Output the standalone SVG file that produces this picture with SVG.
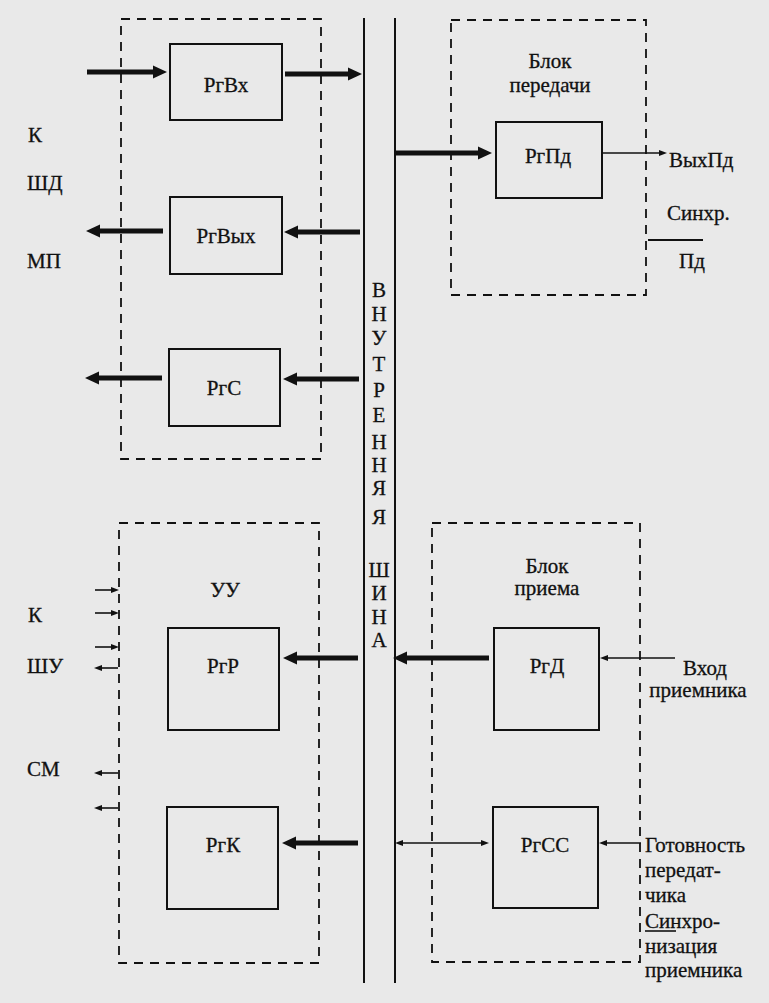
<svg xmlns="http://www.w3.org/2000/svg" width="769" height="1003" viewBox="0 0 769 1003">
<defs>
<marker id="big" markerUnits="userSpaceOnUse" markerWidth="14" markerHeight="14" refX="1" refY="7" orient="auto"><path d="M0,0.5 L14,7 L0,13.5 z" fill="#111"/></marker>
<marker id="small" markerUnits="userSpaceOnUse" markerWidth="8" markerHeight="7" refX="1" refY="3.5" orient="auto-start-reverse"><path d="M0,0.5 L8,3.5 L0,6.5 z" fill="#111"/></marker>
</defs>
<style>
.bg{fill:#e9e9e9}
.dash{fill:none;stroke:#111;stroke-width:1.8;stroke-dasharray:9,7}
.box{fill:none;stroke:#111;stroke-width:2}
.thick{stroke:#111;stroke-width:5;fill:none;marker-end:url(#big)}
.thin{stroke:#111;stroke-width:1.6;fill:none;marker-end:url(#small)}
.bus{stroke:#111;stroke-width:2}
text{font-family:'Liberation Serif',serif;font-size:21px;fill:#111;stroke:#111;stroke-width:0.3}
.c{text-anchor:middle}
.bl{font-size:22px}
</style>
<rect class="bg" x="0" y="0" width="769" height="1003"/>

<g id="bus">
<line class="bus" x1="364" y1="18" x2="364" y2="983"/>
<line class="bus" x1="395" y1="18" x2="395" y2="983"/>
<g class="c bl">
<text x="379" y="297">В</text>
<text x="379" y="321">Н</text>
<text x="379" y="345">У</text>
<text x="379" y="371">Т</text>
<text x="379" y="397">Р</text>
<text x="379" y="422">Е</text>
<text x="379" y="449">Н</text>
<text x="379" y="472">Н</text>
<text x="379" y="495">Я</text>
<text x="379" y="524">Я</text>
<text x="379" y="577">Ш</text>
<text x="379" y="600">И</text>
<text x="379" y="624">Н</text>
<text x="379" y="647">А</text>
</g>
</g>

<g id="mp-block">
<rect class="dash" x="121" y="19" width="200" height="440"/>
</g>
<g id="tx-block">
<rect class="dash" x="451" y="20" width="195" height="275"/>
<text class="c" x="550" y="68">Блок</text>
<text class="c" x="550" y="92">передачи</text>
</g>
<g id="uu-block">
<rect class="dash" x="119" y="523" width="200" height="440"/>
<text class="c" x="225" y="597">УУ</text>
</g>
<g id="rx-block">
<rect class="dash" x="432" y="523" width="208" height="439"/>
<text class="c" x="547" y="573">Блок</text>
<text class="c" x="547" y="595">приема</text>
</g>

<g id="RgVx"><rect class="box" x="170" y="44" width="112" height="76"/><text class="c" x="226" y="92">РгВх</text></g>
<g id="RgVyx"><rect class="box" x="170" y="197" width="112" height="77"/><text class="c" x="226" y="243">РгВых</text></g>
<g id="RgS"><rect class="box" x="169" y="349" width="111" height="77"/><text class="c" x="224" y="395">РгС</text></g>
<g id="RgPd"><rect class="box" x="496" y="122" width="106" height="76"/><text class="c" x="548" y="163">РгПд</text></g>
<g id="RgR"><rect class="box" x="168" y="628" width="111" height="102"/><text class="c" x="223" y="673">РгР</text></g>
<g id="RgK"><rect class="box" x="167" y="807" width="111" height="102"/><text class="c" x="223" y="852">РгК</text></g>
<g id="RgD"><rect class="box" x="494" y="628" width="105" height="102"/><text class="c" x="547" y="673">РгД</text></g>
<g id="RgSS"><rect class="box" x="493" y="807" width="105" height="101"/><text class="c" x="545" y="852">РгСС</text></g>

<g id="labels">
<text x="28" y="142">К</text>
<text x="27" y="190">ШД</text>
<text x="27" y="268">МП</text>
<text x="28" y="622">К</text>
<text x="27" y="673">ШУ</text>
<text x="27" y="776">СМ</text>
<text x="669" y="167">ВыхПд</text>
<text x="667" y="220">Синхр.</text>
<text class="c" x="692" y="268">Пд</text>
<text class="c" x="705" y="675">Вход</text>
<text class="c" x="698" y="697">приемника</text>
<text x="645" y="852">Готовность</text>
<text x="645" y="877">передат-</text>
<text x="645" y="902">чика</text>
<text x="645" y="928">Синхро-</text>
<text x="645" y="953">низация</text>
<text x="645" y="977">приемника</text>
<line x1="645" y1="931" x2="676" y2="931" stroke="#111" stroke-width="1.6"/>
<line x1="648" y1="240" x2="703" y2="240" stroke="#111" stroke-width="2"/>
</g>

<g id="connectors">
<line class="thick" x1="87" y1="72" x2="154" y2="72"/>
<line class="thick" x1="285" y1="74" x2="349" y2="74"/>
<line class="thick" x1="360" y1="232" x2="297" y2="232"/>
<line class="thick" x1="163" y1="231" x2="99" y2="231"/>
<line class="thick" x1="359" y1="379" x2="296" y2="379"/>
<line class="thick" x1="162" y1="378" x2="98" y2="378"/>
<line class="thick" x1="395" y1="153" x2="479" y2="153"/>
<line class="thin" x1="602" y1="153" x2="660" y2="153"/>
<line class="thick" x1="358" y1="658" x2="296" y2="658"/>
<line class="thick" x1="489" y1="658" x2="406" y2="658"/>
<line class="thin" x1="675" y1="658" x2="607" y2="658"/>
<line class="thick" x1="358" y1="843" x2="295" y2="843"/>
<line class="thin" x1="402" y1="843" x2="482" y2="843" style="marker-start:url(#small)"/>
<line class="thin" x1="641" y1="843" x2="606" y2="843"/>
<line class="thin" x1="95" y1="590" x2="112" y2="590"/>
<line class="thin" x1="95" y1="613" x2="112" y2="613"/>
<line class="thin" x1="95" y1="647" x2="112" y2="647"/>
<line class="thin" x1="118" y1="668" x2="101" y2="668"/>
<line class="thin" x1="118" y1="773" x2="101" y2="773"/>
<line class="thin" x1="118" y1="808" x2="101" y2="808"/>
</g>
</svg>
